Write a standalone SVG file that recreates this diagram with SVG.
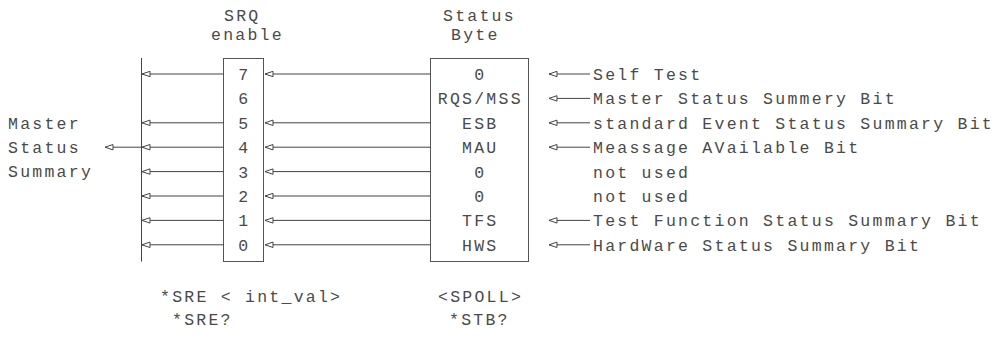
<svg xmlns="http://www.w3.org/2000/svg" width="1005" height="344" viewBox="0 0 1005 344">
<style>
text{font-family:"Liberation Mono","DejaVu Sans Mono",monospace;font-size:16.5px;letter-spacing:2.25px;fill:#4a4a4a}
.c{text-anchor:middle}
.ln{stroke:#444;stroke-width:1;fill:none}
.box{stroke:#555;stroke-width:1;fill:#fff}
</style>
<defs>
<marker id="ah" viewBox="0 0 9 7" refX="0.5" refY="3.5" markerWidth="9" markerHeight="7" markerUnits="userSpaceOnUse" orient="auto">
<path d="M0.5,3.5 L8.5,0.8 L8.5,6.2 Z" fill="#fff" stroke="#444" stroke-width="1"/>
</marker>
</defs>
<g id="headers">
<text x="224" y="21">SRQ</text>
<text x="211" y="40">enable</text>
<text x="443" y="21">Status</text>
<text x="451" y="40">Byte</text>
</g>
<g id="master-label">
<text x="8" y="129">Master</text>
<text x="8" y="153">Status</text>
<text x="8" y="177">Summary</text>
</g>
<g id="bus"><line class="ln" x1="141.5" y1="58" x2="141.5" y2="261.5"/></g>
<g id="srq-enable">
<rect class="box" x="223.5" y="58.5" width="40" height="203"/>
<text class="c" x="244.3" y="80">7</text>
<text class="c" x="244.3" y="104.4">6</text>
<text class="c" x="244.3" y="128.8">5</text>
<text class="c" x="244.3" y="153.2">4</text>
<text class="c" x="244.3" y="177.6">3</text>
<text class="c" x="244.3" y="202">2</text>
<text class="c" x="244.3" y="226.4">1</text>
<text class="c" x="244.3" y="250.8">0</text>
</g>
<g id="status-byte">
<rect class="box" x="430.5" y="58.5" width="98" height="203"/>
<text class="c" x="480.3" y="80">0</text>
<text class="c" x="480.3" y="104.4">RQS/MSS</text>
<text class="c" x="480.3" y="128.8">ESB</text>
<text class="c" x="480.3" y="153.2">MAU</text>
<text class="c" x="480.3" y="177.6">0</text>
<text class="c" x="480.3" y="202">0</text>
<text class="c" x="480.3" y="226.4">TFS</text>
<text class="c" x="480.3" y="250.8">HWS</text>
</g>
<g id="sources">
<text x="593" y="80">Self Test</text>
<text x="593" y="104.4">Master Status Summery Bit</text>
<text x="593" y="128.8">standard Event Status Summary Bit</text>
<text x="593" y="153.2">Meassage AVailable Bit</text>
<text x="593" y="177.6">not used</text>
<text x="593" y="202">not used</text>
<text x="593" y="226.4">Test Function Status Summary Bit</text>
<text x="593" y="250.8">HardWare Status Summary Bit</text>
</g>
<g id="commands">
<text x="160" y="302">*SRE &lt; int_val&gt;</text>
<text x="172" y="325">*SRE?</text>
<text x="438" y="302">&lt;SPOLL&gt;</text>
<text x="449" y="325">*STB?</text>
</g>
<g id="connectors" class="ln">
<line x1="105" y1="147.2" x2="141.5" y2="147.2" marker-start="url(#ah)"/>
<line x1="142" y1="74" x2="223.5" y2="74" marker-start="url(#ah)"/>
<line x1="142" y1="122.8" x2="223.5" y2="122.8" marker-start="url(#ah)"/>
<line x1="142" y1="147.2" x2="223.5" y2="147.2" marker-start="url(#ah)"/>
<line x1="142" y1="171.6" x2="223.5" y2="171.6" marker-start="url(#ah)"/>
<line x1="142" y1="196" x2="223.5" y2="196" marker-start="url(#ah)"/>
<line x1="142" y1="220.4" x2="223.5" y2="220.4" marker-start="url(#ah)"/>
<line x1="142" y1="244.8" x2="223.5" y2="244.8" marker-start="url(#ah)"/>
<line x1="265" y1="74" x2="430.5" y2="74" marker-start="url(#ah)"/>
<line x1="265" y1="122.8" x2="430.5" y2="122.8" marker-start="url(#ah)"/>
<line x1="265" y1="147.2" x2="430.5" y2="147.2" marker-start="url(#ah)"/>
<line x1="265" y1="171.6" x2="430.5" y2="171.6" marker-start="url(#ah)"/>
<line x1="265" y1="196" x2="430.5" y2="196" marker-start="url(#ah)"/>
<line x1="265" y1="220.4" x2="430.5" y2="220.4" marker-start="url(#ah)"/>
<line x1="265" y1="244.8" x2="430.5" y2="244.8" marker-start="url(#ah)"/>
<line x1="549" y1="74" x2="590" y2="74" marker-start="url(#ah)"/>
<line x1="549" y1="98.4" x2="590" y2="98.4" marker-start="url(#ah)"/>
<line x1="549" y1="122.8" x2="590" y2="122.8" marker-start="url(#ah)"/>
<line x1="549" y1="147.2" x2="590" y2="147.2" marker-start="url(#ah)"/>
<line x1="549" y1="220.4" x2="590" y2="220.4" marker-start="url(#ah)"/>
<line x1="549" y1="244.8" x2="590" y2="244.8" marker-start="url(#ah)"/>
</g>
</svg>
